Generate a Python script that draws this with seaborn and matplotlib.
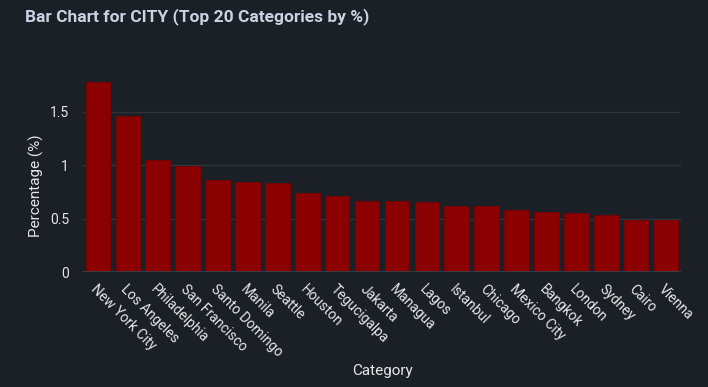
import matplotlib
matplotlib.use("Agg")
import matplotlib.pyplot as plt
import seaborn as sns
import pandas as pd

categories = ["New York City", "Los Angeles", "Philadelphia", "San Francisco", "Santo Domingo",
              "Manila", "Seattle", "Houston", "Tegucigalpa", "Jakarta", "Managua", "Lagos",
              "Istanbul", "Chicago", "Mexico City", "Bangkok", "London", "Sydney", "Cairo", "Vienna"]
percentages = [1.777, 1.459, 1.051, 0.99, 0.861, 0.839, 0.83, 0.743, 0.711, 0.661, 0.661, 0.652,
               0.615, 0.615, 0.58, 0.558, 0.549, 0.53, 0.484, 0.484]
yticks = [0, 0.5, 1, 1.5]
yticklabels = ["0", "0.5", "1", "1.5"]

bg = "#1b1f26"
grid = "#30353d"
text_col = "#e6e6e6"

sns.set_theme(style="dark")
plt.rcParams["font.family"] = ["Roboto", "DejaVu Sans"]

df = pd.DataFrame({"Category": categories, "Percentage": percentages})

fig = plt.figure(figsize=(7.08, 3.87), dpi=100, facecolor=bg)
ax = fig.add_axes([83 / 708, 1 - 272 / 387, (681 - 83) / 708, (272 - 72) / 387])
ax.set_facecolor(bg)

sns.barplot(data=df, x="Category", y="Percentage", color="#8b0000", saturation=1,
            width=0.82, ax=ax, edgecolor="#7a0000", linewidth=0.6, zorder=3)

ax.set_xlim(-0.5, len(categories) - 0.5)
ax.set_ylim(0, 1.87)
ax.set_yticks(yticks)
ax.set_yticklabels(yticklabels)
ax.yaxis.grid(True, color=grid, linewidth=1, zorder=0)
ax.xaxis.grid(False)
ax.axhline(0, color="#3a3f48", linewidth=2, zorder=4)
for s in ax.spines.values():
    s.set_visible(False)

ax.tick_params(axis="y", colors=text_col, labelsize=10, length=0, pad=10)
ax.tick_params(axis="x", colors=text_col, labelsize=10, length=0, pad=7)
for lbl in ax.get_xticklabels():
    lbl.set_rotation(-45)
    lbl.set_ha("left")
    lbl.set_va("top")
    lbl.set_rotation_mode("anchor")
    lbl.set_color(text_col)

ax.set_xlabel("Category", color=text_col, fontsize=11)
ax.set_ylabel("Percentage (%)", color=text_col, fontsize=11)
ax.xaxis.set_label_coords(0.5, -0.46)
ax.yaxis.set_label_coords(-0.066, 0.43)

fig.text(25 / 708, 1 - 17 / 387, "Bar Chart for CITY (Top 20 Categories by %)", color="#c8d2e0",
         fontsize=12.5, fontweight="bold", ha="left", va="center")

fig.savefig("out.png", dpi=100, facecolor=bg)
